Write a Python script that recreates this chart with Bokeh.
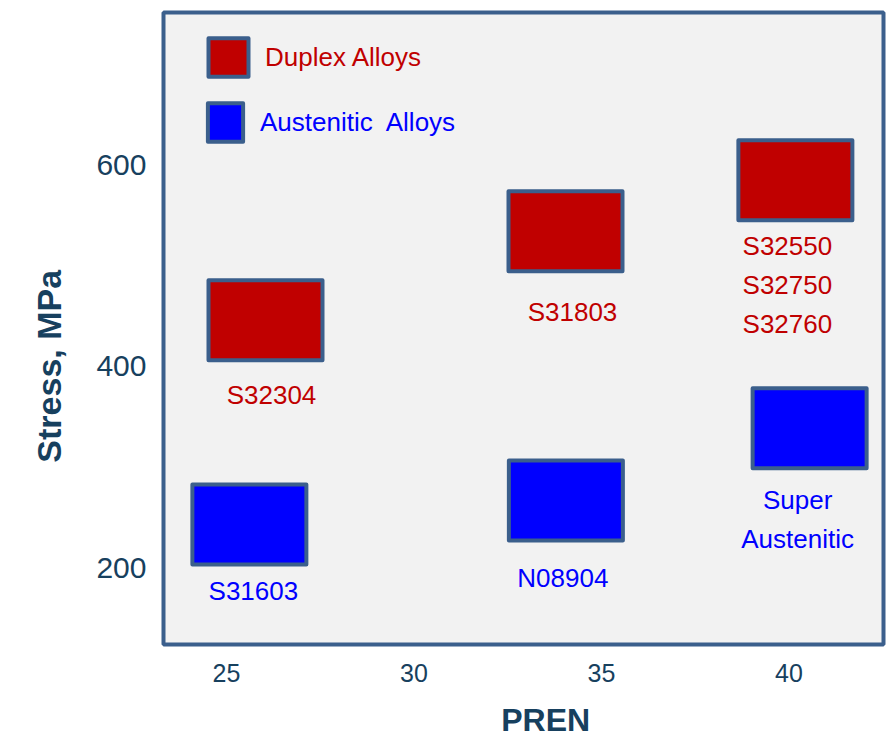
from bokeh.plotting import figure
from bokeh.models import ColumnDataSource, Legend, LegendItem, FixedTicker
from bokeh.embed import file_html
from bokeh.resources import INLINE

# ---- data ----
duplex_names = ["S32304", "S31803", "S32550\nS32750\nS32760"]
duplex_pren = [26.04, 34.04, 40.17]
duplex_stress = [445.7, 534.0, 584.6]

aust_names = ["S31603", "N08904", "Super\nAustenitic"]
aust_pren = [25.61, 34.05, 40.55]
aust_stress = [243.2, 267.0, 338.5]

x_ticks = [25, 30, 35, 40]
y_ticks = [200, 400, 600]
x_title = "PREN"
y_title = "Stress, MPa"

# ---- styles ----
FONT = "Liberation Sans"
AXIS_COL = "#17405e"
EDGE = "#3b5f8c"
RED = "#c00000"
BLUE = "#0000ff"
NB = "\u00a0"  # padding to shift centred axis titles like the reference
duplex_dx = [6, 7, -8]
duplex_dy = [75, 81, 105]
aust_dx = [4, -3, -12]
aust_dy = [67, 78, 91.5]

p = figure(width=888, height=742, output_backend="svg", toolbar_location=None,
           x_range=(23.32, 42.52), y_range=(124.1, 750.9),
           min_border_left=163, min_border_right=5, min_border_top=12, min_border_bottom=98)
p.background_fill_color = "#f2f2f2"
p.border_fill_color = "white"
p.outline_line_color = EDGE
p.outline_line_width = 4
p.outline_line_alpha = 1
p.xgrid.visible = False
p.ygrid.visible = False

src_d = ColumnDataSource(dict(x=duplex_pren, y=duplex_stress, name=duplex_names, dx=duplex_dx, dy=duplex_dy))
src_a = ColumnDataSource(dict(x=aust_pren, y=aust_stress, name=aust_names, dx=aust_dx, dy=aust_dy))

r_d = p.rect(x="x", y="y", width=114, height=80, width_units="screen", height_units="screen",
             source=src_d, fill_color=RED, line_color=EDGE, line_width=4, line_join="round")
r_a = p.rect(x="x", y="y", width=114, height=80, width_units="screen", height_units="screen",
             source=src_a, fill_color=BLUE, line_color=EDGE, line_width=4, line_join="round")

p.text(x="x", y="y", text="name", source=src_d, x_offset="dx", y_offset="dy",
       text_align="center", text_baseline="middle", text_font={"value": FONT},
       text_font_size="26px", text_color=RED, text_line_height=1.3)
p.text(x="x", y="y", text="name", source=src_a, x_offset="dx", y_offset="dy",
       text_align="center", text_baseline="middle", text_font={"value": FONT},
       text_font_size="26px", text_color=BLUE, text_line_height=1.3)

leg1 = Legend(items=[LegendItem(label="Duplex Alloys", renderers=[r_d])],
              location=(40, 563), glyph_width=50, glyph_height=48, label_standoff=12,
              padding=0, margin=0, spacing=0)
leg2 = Legend(items=[LegendItem(label="Austenitic  Alloys", renderers=[r_a])],
              location=(40, 498), glyph_width=44, glyph_height=48, label_standoff=13,
              padding=0, margin=0, spacing=0)
for lg, col in ((leg1, RED), (leg2, BLUE)):
    lg.background_fill_alpha = 0
    lg.border_line_alpha = 0
    lg.label_text_font = FONT
    lg.label_text_font_size = "26px"
    lg.label_text_color = col
    lg.label_height = 48
    p.add_layout(lg, "center")

p.xaxis.ticker = FixedTicker(ticks=x_ticks)
p.yaxis.ticker = FixedTicker(ticks=y_ticks)
for ax in (p.xaxis, p.yaxis):
    ax.axis_line_color = None
    ax.major_tick_line_color = None
    ax.minor_tick_line_color = None
    ax.major_label_text_font = FONT
    ax.major_label_text_color = AXIS_COL
    ax.axis_label_text_font = FONT
    ax.axis_label_text_font_style = "bold"
    ax.axis_label_text_color = AXIS_COL
p.xaxis.axis_label_text_font_size = "32px"
p.yaxis.axis_label_text_font_size = "34px"
p.xaxis.major_label_text_font_size = "25px"
p.yaxis.major_label_text_font_size = "30px"
p.xaxis.major_label_standoff = 13
p.yaxis.major_label_standoff = 11
p.xaxis.axis_label = NB * 5 + x_title
p.yaxis.axis_label = y_title + NB * 8
p.xaxis.axis_label_standoff = 17
p.yaxis.axis_label_standoff = 25

open("out.html", "w").write(file_html(p, INLINE))
